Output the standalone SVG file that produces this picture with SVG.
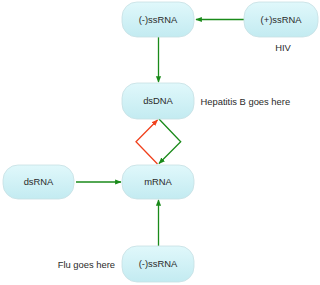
<svg xmlns="http://www.w3.org/2000/svg" width="320" height="285" viewBox="0 0 320 285">
<style>
.node rect{fill:url(#g);stroke:#c6dfe3;stroke-width:0.8}
.node text,.lbl{font-family:"Liberation Sans",Arial,sans-serif;font-size:9.4px;fill:#2a2a2a}
.node text{text-anchor:middle}
.g{stroke:#1a8a1a;stroke-width:1.3;fill:none}
.r{stroke:#f0401c;stroke-width:1.3;fill:none}
</style>
<defs>
<linearGradient id="g" x1="0" y1="0" x2="0" y2="1">
<stop offset="0" stop-color="#e0f8fb"/>
<stop offset="1" stop-color="#c3ebf1"/>
</linearGradient>
<marker id="ag" viewBox="0 0 10 10" refX="9" refY="5" markerWidth="5" markerHeight="5" orient="auto">
<path d="M0,1 L10,5 L0,9 z" fill="#1a8a1a"/>
</marker>
<marker id="ar" viewBox="0 0 10 10" refX="9" refY="5" markerWidth="5" markerHeight="5" orient="auto">
<path d="M0,1 L10,5 L0,9 z" fill="#f0401c"/>
</marker>
</defs>
<g id="connectors">
<line class="g" x1="244" y1="19.5" x2="196" y2="19.5" marker-end="url(#ag)"/>
<line class="g" x1="158.5" y1="37" x2="158.5" y2="82" marker-end="url(#ag)"/>
<polyline class="r" points="157.5,164 136,141.7 157.5,120" marker-end="url(#ar)"/>
<polyline class="g" points="159,119 180.7,141.7 159,163.5" marker-end="url(#ag)"/>
<line class="g" x1="76" y1="182" x2="121" y2="182" marker-end="url(#ag)"/>
<line class="g" x1="158.5" y1="246" x2="158.5" y2="200" marker-end="url(#ag)"/>
</g>
<g id="n1" class="node"><rect x="122" y="2" width="72" height="35" rx="15"/><text x="158" y="22.7">(-)ssRNA</text></g>
<g id="n2" class="node"><rect x="244" y="2" width="74" height="35" rx="15"/><text x="281" y="22.7">(+)ssRNA</text></g>
<g id="n3" class="node"><rect x="122" y="83" width="72" height="36" rx="15"/><text x="158" y="104.2">dsDNA</text></g>
<g id="n4" class="node"><rect x="122" y="165" width="72" height="34" rx="15"/><text x="158" y="185.2">mRNA</text></g>
<g id="n5" class="node"><rect x="3" y="165" width="71" height="34" rx="15"/><text x="38.5" y="185.2">dsRNA</text></g>
<g id="n6" class="node"><rect x="122" y="246" width="72" height="36" rx="15"/><text x="158" y="267.2">(-)ssRNA</text></g>
<text class="lbl" x="283" y="51.2" text-anchor="middle">HIV</text>
<text class="lbl" x="200.5" y="105.2">Hepatitis B goes here</text>
<text class="lbl" x="115" y="268.2" text-anchor="end">Flu goes here</text>
</svg>
